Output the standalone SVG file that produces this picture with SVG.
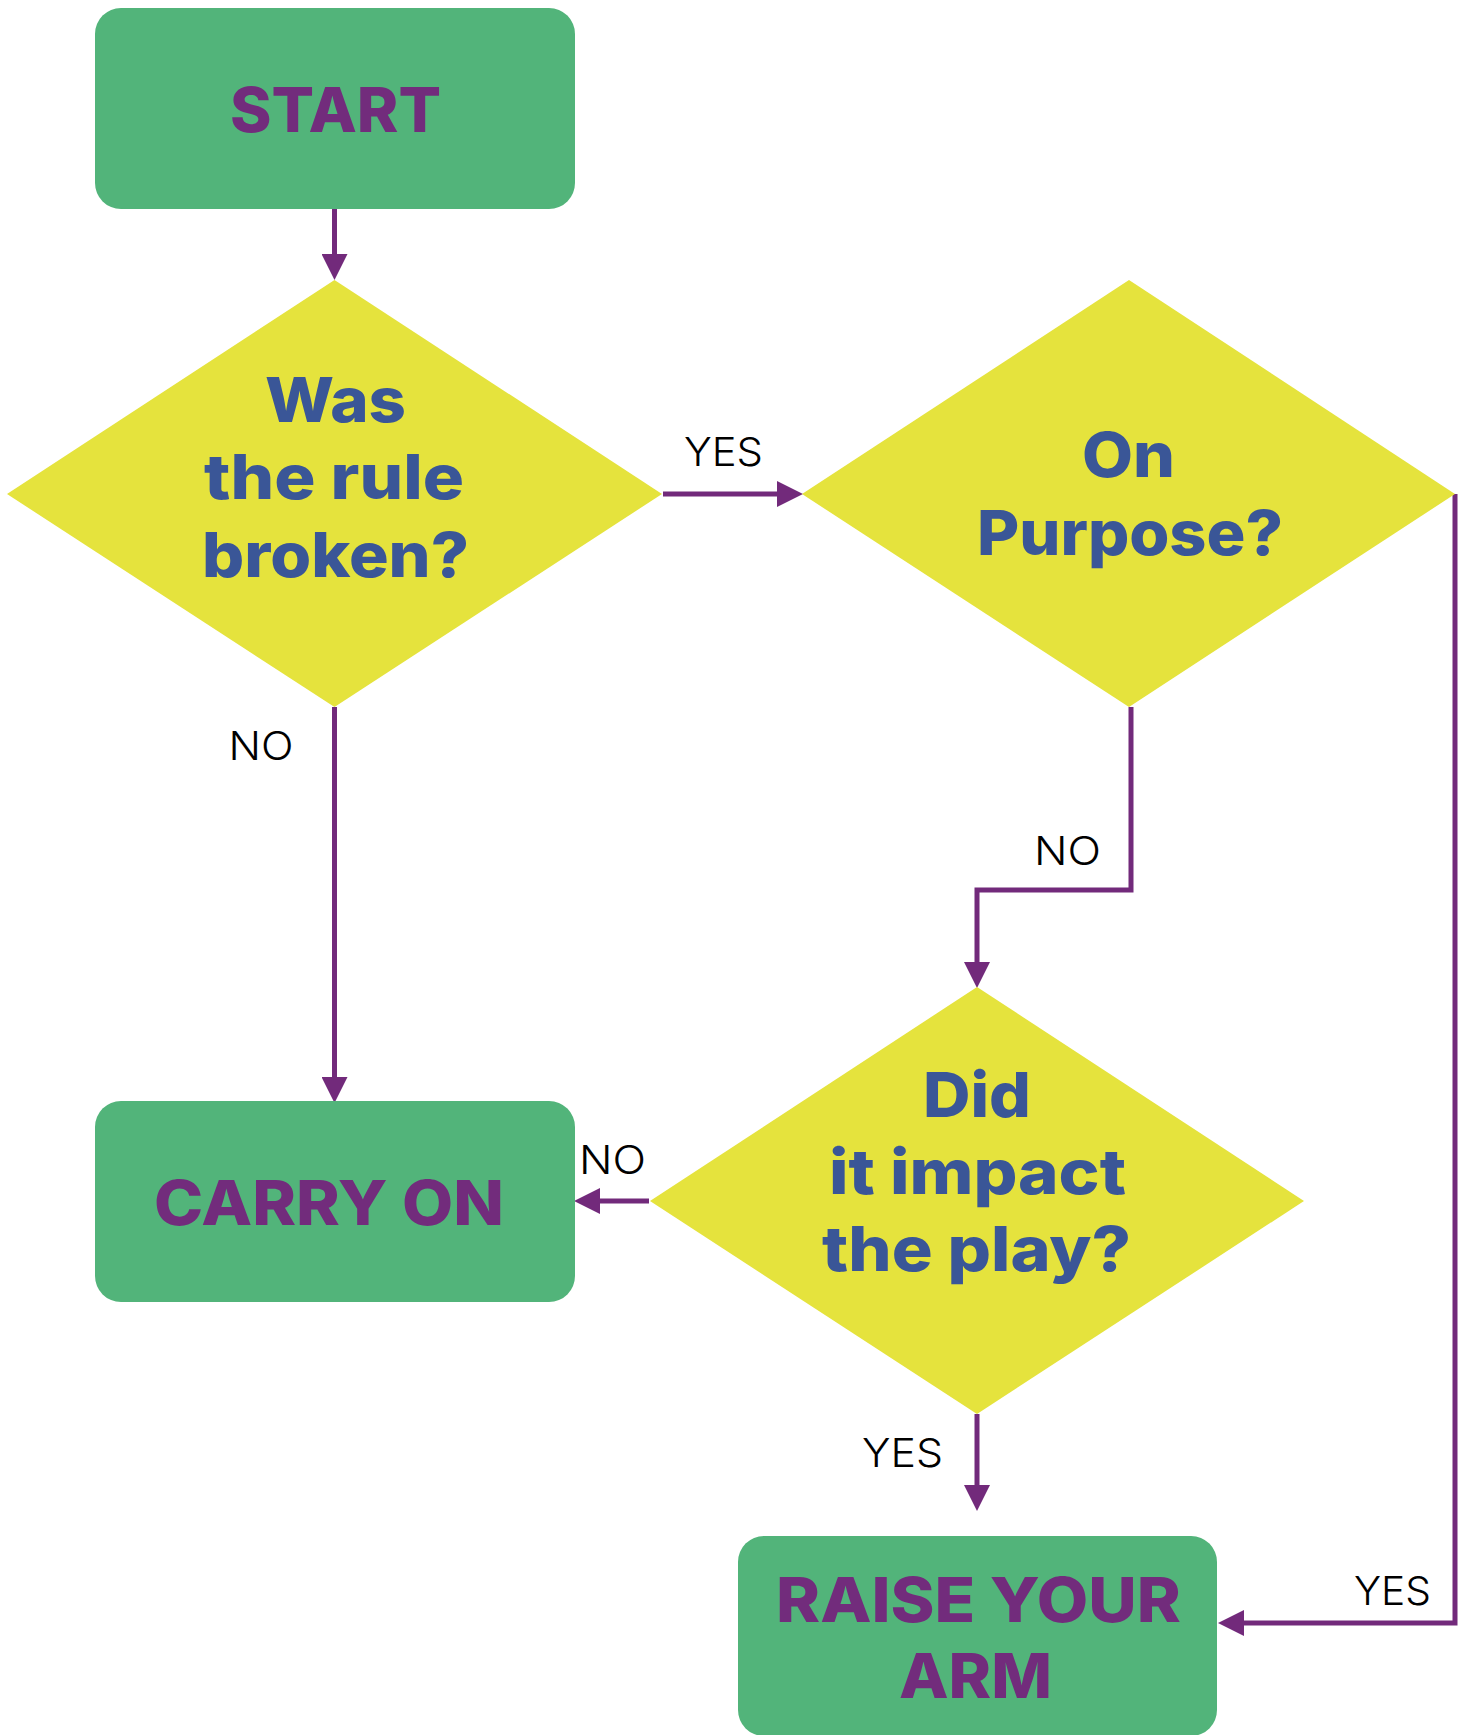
<svg xmlns="http://www.w3.org/2000/svg" width="1466" height="1735" viewBox="0 0 1466 1735">
<defs>
<style>
.box{fill:#52B47A}
.dia{fill:#E5E33D}
.bt{font-family:Inter,"Open Sans","Liberation Sans",sans-serif;font-weight:800;font-size:62px;fill:#722C7C;text-anchor:middle}
.dt{font-family:Inter,"Open Sans","Liberation Sans",sans-serif;font-weight:800;font-size:62px;fill:#3A5697;text-anchor:middle}
.lb{font-family:Inter,"Liberation Sans",sans-serif;font-weight:300;font-size:40px;fill:#000;text-anchor:middle}
.cn{fill:none;stroke:#722A7B;stroke-width:5;marker-end:url(#ah)}
</style>
<marker id="ah" markerUnits="userSpaceOnUse" markerWidth="26" markerHeight="26" viewBox="0 0 25 25" refX="0" refY="12.5" orient="auto">
<path d="M0,0 L25,12.5 L0,25 Z" fill="#722A7B"/>
</marker>
</defs>

<g id="connectors">
<path class="cn" d="M334.5 209 V254"/>
<path class="cn" d="M663 494 H777"/>
<path class="cn" d="M334.5 707 V1077"/>
<path class="cn" d="M1131 707 V890 H977 V962"/>
<path class="cn" d="M649 1201 H600"/>
<path class="cn" d="M977 1414 V1485"/>
<path class="cn" d="M1455 494 V1623 H1244"/>
</g>

<g id="start">
<rect class="box" x="95" y="8" width="480" height="201" rx="26"/>
<text class="bt" x="335.5" y="132" textLength="211" lengthAdjust="spacingAndGlyphs">START</text>
</g>

<g id="rule-broken">
<polygon class="dia" points="334.5,280 662,494 334.5,707 7,494"/>
<text class="dt" x="335.5" y="422" textLength="141" lengthAdjust="spacingAndGlyphs">Was</text>
<text class="dt" x="334" y="499" textLength="260" lengthAdjust="spacingAndGlyphs">the rule</text>
<text class="dt" x="335.5" y="577" textLength="267" lengthAdjust="spacingAndGlyphs">broken?</text>
</g>

<g id="on-purpose">
<polygon class="dia" points="1129,280 1455,494 1129,707 802,494"/>
<text class="dt" x="1128.5" y="477" textLength="93" lengthAdjust="spacingAndGlyphs">On</text>
<text class="dt" x="1130" y="555" textLength="306" lengthAdjust="spacingAndGlyphs">Purpose?</text>
</g>

<g id="impact-play">
<polygon class="dia" points="977,987 1304,1201 977,1414 650,1201"/>
<text class="dt" x="977" y="1117" textLength="108" lengthAdjust="spacingAndGlyphs">Did</text>
<text class="dt" x="977.5" y="1194" textLength="297" lengthAdjust="spacingAndGlyphs">it impact</text>
<text class="dt" x="976.5" y="1271" textLength="309" lengthAdjust="spacingAndGlyphs">the play?</text>
</g>

<g id="carry-on">
<rect class="box" x="95" y="1101" width="480" height="201" rx="26"/>
<text class="bt" x="329" y="1225" textLength="350" lengthAdjust="spacingAndGlyphs">CARRY ON</text>
</g>

<g id="raise-arm">
<rect class="box" x="738" y="1536" width="479" height="200" rx="26"/>
<text class="bt" x="978.5" y="1622" textLength="405" lengthAdjust="spacingAndGlyphs">RAISE YOUR</text>
<text class="bt" x="975.5" y="1698" textLength="153" lengthAdjust="spacingAndGlyphs">ARM</text>
</g>

<g id="labels">
<text class="lb" x="723.5" y="466" textLength="79" lengthAdjust="spacingAndGlyphs">YES</text>
<text class="lb" x="261" y="760" textLength="65" lengthAdjust="spacingAndGlyphs">NO</text>
<text class="lb" x="1067.5" y="865" textLength="67" lengthAdjust="spacingAndGlyphs">NO</text>
<text class="lb" x="612.5" y="1174" textLength="67" lengthAdjust="spacingAndGlyphs">NO</text>
<text class="lb" x="902.5" y="1467" textLength="81" lengthAdjust="spacingAndGlyphs">YES</text>
<text class="lb" x="1392.5" y="1605" textLength="77" lengthAdjust="spacingAndGlyphs">YES</text>
</g>
</svg>
